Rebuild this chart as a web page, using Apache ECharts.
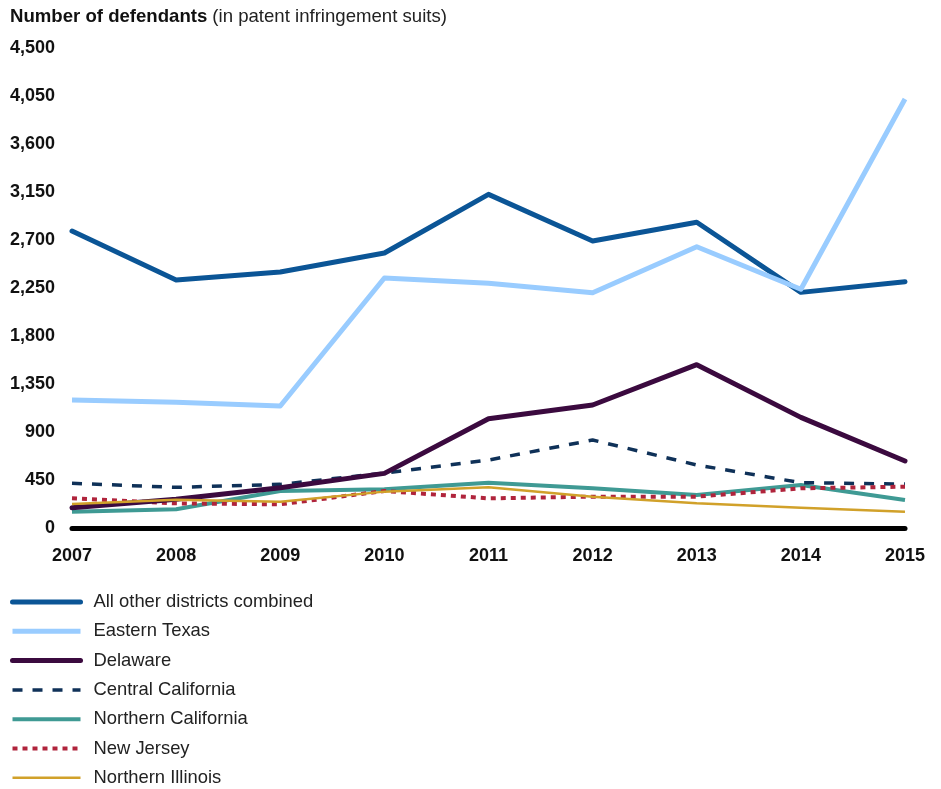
<!DOCTYPE html>
<html>
<head>
<meta charset="utf-8">
<script src="https://cdn.jsdelivr.net/npm/echarts@6/dist/echarts.min.js"></script>
<style>
html,body{margin:0;padding:0;background:#fff;}
#chart{width:941px;height:789px;}
</style>
</head>
<body>
<div id="chart"></div>
<script>
const years = ['2007','2008','2009','2010','2011','2012','2013','2014','2015'];
const yTicks = [0, 450, 900, 1350, 1800, 2250, 2700, 3150, 3600, 4050, 4500];
const allOther = [2784, 2325, 2400, 2578, 3128, 2691, 2866, 2209, 2309];
const easternTexas = [1200, 1180, 1144, 2344, 2294, 2206, 2637, 2238, 4022];
const delaware = [190, 269, 378, 512, 1025, 1153, 1531, 1037, 628];
const centralCalifornia = [419, 381, 409, 515, 637, 825, 591, 425, 412];
const northernCalifornia = [153, 175, 347, 363, 425, 372, 309, 403, 262];
const newJersey = [278, 231, 222, 347, 278, 294, 294, 372, 387];
const northernIllinois = [225, 265, 247, 341, 381, 294, 231, 190, 153];
const seriesNames = ['All other districts combined','Eastern Texas','Delaware','Central California','Northern California','New Jersey','Northern Illinois'];

const FONT = 'Liberation Sans, Arial, sans-serif';
const styles = [
  { color: '#0b5596', width: 5, type: 'solid', z: 3, cap: 'round' },
  { color: '#99ccff', width: 5, type: 'solid', z: 4, cap: 'butt' },
  { color: '#3b0a3f', width: 5, type: 'solid', z: 5, cap: 'round' },
  { color: '#0f3158', width: 3.5, type: [10, 10], z: 4, cap: 'butt' },
  { color: '#3f9a94', width: 4, type: 'solid', z: 3, cap: 'butt' },
  { color: '#b0243c', width: 4, type: [5, 5], z: 4, cap: 'butt' },
  { color: '#d1a12a', width: 2.5, type: 'solid', z: 5, cap: 'butt' }
];
const dataSets = [allOther, easternTexas, delaware, centralCalifornia, northernCalifornia, newJersey, northernIllinois];

const chart = echarts.init(document.getElementById('chart'));
chart.setOption({
  animation: false,
  title: {
    left: 10, top: 7, padding: 0,
    text: '{b|Number of defendants} {n|(in patent infringement suits)}',
    textStyle: {
      rich: {
        b: { fontFamily: FONT, fontSize: 18.6, fontWeight: 'bold', color: '#111', lineHeight: 20 },
        n: { fontFamily: FONT, fontSize: 18.6, fontWeight: 'normal', color: '#222', lineHeight: 20 }
      }
    }
  },
  grid: { left: 72, right: 36, top: 48, bottom: 261, containLabel: false },
  legend: {
    orient: 'vertical', left: 10, top: 593, padding: 0,
    data: seriesNames.map(function (n, i) {
      return { name: n, lineStyle: { width: styles[i].width, color: styles[i].color, type: styles[i].type, cap: styles[i].cap } };
    }),
    itemWidth: 68, itemHeight: 18, itemGap: 11.3,
    itemStyle: { opacity: 0 },
    textStyle: { fontFamily: FONT, fontSize: 18.4, color: '#222', lineHeight: 18, padding: [0, 0, 0, 8] },
    selectedMode: false
  },
  xAxis: {
    type: 'category', data: years, boundaryGap: false,
    axisLine: { lineStyle: { color: '#000', width: 5 } },
    axisTick: { show: false },
    axisLabel: { margin: 19, fontFamily: FONT, fontSize: 18, fontWeight: 'bold', color: '#111' },
    splitLine: { show: false }
  },
  yAxis: {
    type: 'value', min: 0, max: 4500, interval: 450,
    axisLine: { show: false }, axisTick: { show: false },
    splitLine: { show: false },
    axisLabel: {
      margin: 17, fontFamily: FONT, fontSize: 18, fontWeight: 'bold', color: '#111',
      formatter: function (v) { return v.toLocaleString('en-US'); }
    }
  },
  series: seriesNames.map(function (n, i) {
    const s = styles[i];
    return {
      name: n, type: 'line', data: dataSets[i], symbol: 'none', z: s.z,
      lineStyle: { color: s.color, width: s.width, type: s.type, cap: s.cap, join: 'round' },
      itemStyle: { color: s.color },
      emphasis: { disabled: true }
    };
  })
});
</script>
</body>
</html>
